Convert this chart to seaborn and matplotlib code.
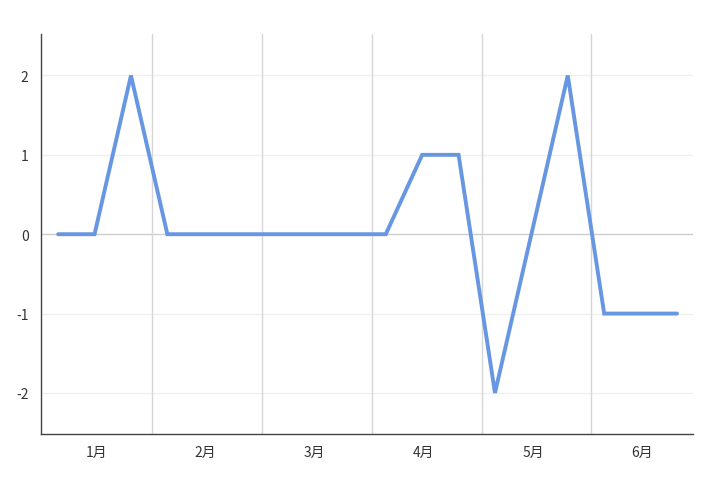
import pandas as pd
import matplotlib
matplotlib.use("Agg")
import matplotlib.pyplot as plt
import seaborn as sns

# data: 3 points per month
months = ["1月", "2月", "3月", "4月", "5月", "6月"]
points_per_month = 3
values = [0, 0, 2, 0, 0, 0, 0, 0, 0, 0, 1, 1, -2, 0, 2, -1, -1, -1]

df = pd.DataFrame({"idx": range(len(values)), "value": values})

sns.set_style("white")
plt.rcParams["font.family"] = ["Noto Sans CJK SC", "DejaVu Sans"]

fig = plt.figure(figsize=(7.2, 4.89), dpi=100)
ax = fig.add_axes([0.057, 0.110, 0.906, 0.818])

# grid
for y in [-2, -1, 1, 2]:
    ax.axhline(y, color="#efefef", lw=0.9, zorder=0)
ax.axhline(0, color="#cccccc", lw=1.0, zorder=0)
for k in range(1, len(months)):
    ax.axvline(k * 3.02 - 0.45, color="#d6d6d6", lw=1.0, zorder=0)

sns.lineplot(data=df, x="idx", y="value", ax=ax, color="#6796e2", lw=2.8,
             solid_joinstyle="miter", zorder=3)

ax.set_xlim(-0.47, len(values) - 0.55)
ax.set_ylim(-2.52, 2.52)
ax.set_yticks([-2, -1, 0, 1, 2])
ax.set_yticklabels(["-2", "-1", "0", "1", "2"])
ax.set_xticks([k * points_per_month + 1.05 for k in range(len(months))])
ax.set_xticklabels(months)
ax.tick_params(axis="both", length=0, labelsize=10, colors="#333333")
ax.tick_params(axis="y", pad=9)
ax.tick_params(axis="x", pad=8)
ax.set_xlabel("")
ax.set_ylabel("")

for s in ["top", "right"]:
    ax.spines[s].set_visible(False)
for s in ["left", "bottom"]:
    ax.spines[s].set_color("#444444")
    ax.spines[s].set_linewidth(1.0)

fig.savefig("out.png", dpi=100)
